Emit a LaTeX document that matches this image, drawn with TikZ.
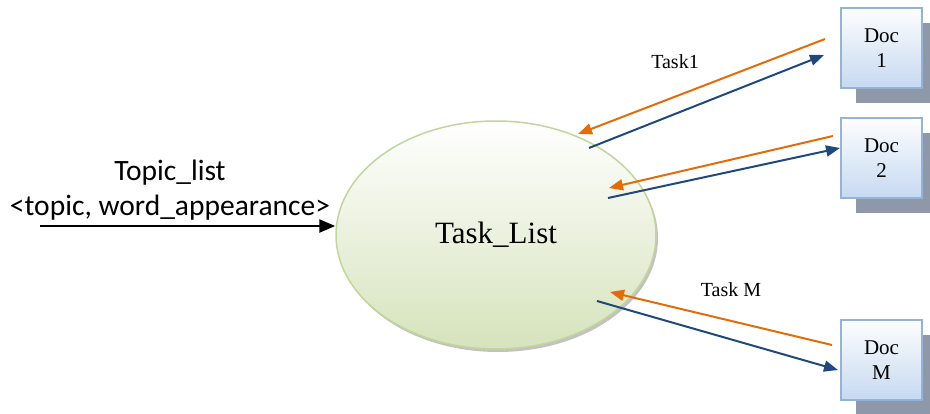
\documentclass[tikz,border=0pt]{standalone}
\usepackage{fontspec}
\setmainfont{Liberation Serif}
\newfontfamily\calibri{Carlito}
\usetikzlibrary{arrows.meta}
\usetikzlibrary{shapes.geometric}
\usetikzlibrary{shadows}
\usetikzlibrary{positioning}
\definecolor{docfill}{HTML}{C6D9F1}
\definecolor{docline}{HTML}{95B3D7}
\definecolor{docshadow}{HTML}{8E98A8}
\definecolor{listfill}{HTML}{D6E3BC}
\definecolor{listline}{HTML}{C2D69B}
\definecolor{sendcol}{HTML}{1F497D}
\definecolor{backcol}{HTML}{E36C09}
\tikzset{doc/.style={rectangle, draw=docline, line width=1.5pt,
   top color=white!96!docfill, bottom color=docfill,
   minimum width=81pt, minimum height=80pt, inner sep=0pt,
   align=center, font=\fontsize{21}{25}\selectfont,
   drop shadow={shadow xshift=15pt, shadow yshift=-15pt, fill=docshadow, opacity=1}}}
\tikzset{tasklist/.style={ellipse, draw=listline, line width=1.5pt,
   top color=white, bottom color=listfill,
   minimum width=320pt, minimum height=228pt, inner sep=0pt,
   font=\fontsize{31}{36}\selectfont,
   drop shadow={shadow xshift=2pt, shadow yshift=-3pt, fill=black!40, opacity=.6}}}
\tikzset{send/.style={draw=sendcol, line width=2pt, -{Triangle[length=14pt,width=11pt]}}}
\tikzset{back/.style={draw=backcol, line width=2pt, -{Triangle[length=14pt,width=11pt]}}}
\tikzset{flowin/.style={draw=black, line width=2.5pt, -{Triangle[length=16pt,width=13pt]}}}
\tikzset{lbl/.style={font=\fontsize{20}{23}\selectfont, inner sep=0pt}}

\begin{document}
\begin{tikzpicture}[x=1pt, y=-1pt]

    \useasboundingbox (0,0) rectangle (930,414);

    \node[tasklist] (tasks) at (496,235) {Task\_List};

    \node[doc] (doc1) at (881.5,48) {Doc\\1};
    \node[doc] (doc2) at (881.5,158) {Doc\\2};
    \node[doc] (docM) at (881.5,360) {Doc\\M};

    \node[align=center, font=\calibri\fontsize{29.5}{35}\selectfont, inner sep=0pt] (topic) at (170,190)
       {Topic\_list\\<topic, word\_appearance>};

    \node[lbl] (task1) at (675,62) {Task1};
    \node[lbl] (taskM) at (731,290) {Task M};

    % input
    \coordinate (src) at (40,226);
    \draw[flowin] (src) -- (src -| tasks.west);

    % doc 1
    \coordinate (back1s) at (825,39);
    \coordinate (back1e) at (578,134);
    \coordinate (send1s) at (589,148);
    \coordinate (send1e) at (824,55);
    \draw[back] (back1s) -- (back1e);
    \draw[send] (send1s) -- (send1e);

    % doc 2
    \coordinate (back2s) at (833,136);
    \coordinate (back2e) at (609,188);
    \coordinate (send2s) at (608,198);
    \coordinate (send2e) at (840,148);
    \draw[back] (back2s) -- (back2e);
    \draw[send] (send2s) -- (send2e);

    % doc M
    \coordinate (backMs) at (832,345);
    \coordinate (backMe) at (610,292);
    \coordinate (sendMs) at (597,301);
    \coordinate (sendMe) at (838,370);
    \draw[back] (backMs) -- (backMe);
    \draw[send] (sendMs) -- (sendMe);

  \end{tikzpicture}
\end{document}
